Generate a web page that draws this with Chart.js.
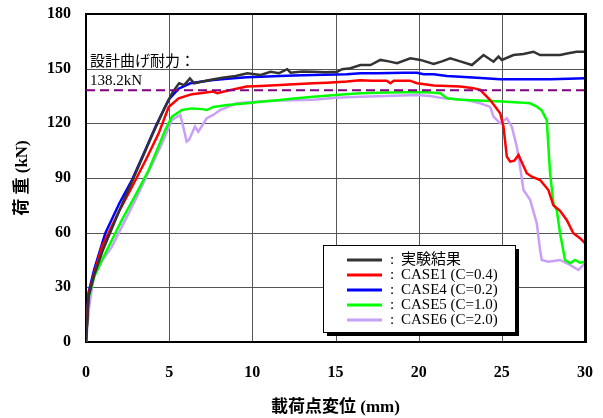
<!DOCTYPE html>
<html>
<head>
<meta charset="utf-8">
<script src="https://cdn.jsdelivr.net/npm/chart.js@4"></script>
<style>
  html, body { margin: 0; padding: 0; background: #fff; }
</style>
</head>
<body>
<canvas id="chart" width="603" height="418"></canvas>
<script>
// displacement (mm) / load (kN)
const expX = [0, 0.15, 0.5, 1, 2, 3, 4, 4.7, 5.2, 5.6, 5.9, 6.25, 6.5, 7, 7.6, 8.2, 9, 9.7, 10.5, 11.1, 11.6, 12.1, 12.3, 13, 13.7, 14.4, 15.1, 15.4, 15.9, 16.5, 17.1, 17.7, 18.2, 18.7, 19.5, 20.1, 20.9, 21.4, 21.9, 22.5, 23.2, 23.9, 24.5, 24.8, 25, 25.7, 26.3, 26.9, 27.3, 28, 28.5, 29, 29.5, 30];
const expY = [0, 25, 37, 50, 72, 93, 114, 128, 137, 142, 141, 144.7, 142, 143, 144, 145, 146, 147.5, 146.5, 148.3, 147.5, 149.7, 147.8, 148.5, 148.3, 148, 148.3, 149.7, 150.2, 152, 152, 154.8, 154, 153, 155.7, 154.8, 152.6, 154, 155.7, 154, 152, 157.5, 153.8, 156.6, 154.8, 157.5, 158, 159.3, 157.5, 157.5, 157.5, 158.5, 159.3, 159.3];

const case1X = [0, 0.15, 0.5, 0.96, 2, 2.77, 3.6, 4.37, 4.97, 5.57, 6.37, 6.86, 7.65, 7.9, 8.3, 9.66, 10.5, 11.67, 12.5, 13.65, 14.5, 15.68, 16.48, 17.2, 18.08, 18.3, 18.5, 19.48, 19.9, 20.9, 21.7, 22.5, 23.3, 23.7, 24.3, 24.9, 25.1, 25.3, 25.5, 25.75, 26, 26.5, 26.8, 27.3, 27.8, 28.1, 28.5, 28.9, 29.3, 29.7, 30];
const case1Y = [0, 26, 38, 52.3, 72, 85.2, 100, 114.5, 129, 133.7, 136, 136.5, 137.4, 136.5, 137.5, 140.2, 140.5, 141, 141.5, 142, 142.3, 142.9, 143.6, 143.4, 143.4, 142, 143.4, 143.4, 142, 140.8, 140.5, 140.2, 139.3, 138.3, 132.8, 125.5, 118.2, 101.7, 99, 99.5, 102.6, 92.6, 90.7, 88.9, 83.4, 75, 72, 67, 59.7, 57, 54.2];

const case4X = [0, 0.15, 0.5, 1.16, 2, 2.77, 3.5, 4.17, 4.97, 5.57, 6.27, 7, 7.65, 8.5, 9.66, 10.5, 11.67, 12.5, 13.67, 15, 15.68, 16.5, 17.5, 18.3, 19.1, 19.9, 20.3, 20.9, 21.7, 22.5, 23.5, 24.9, 26, 27.9, 29, 30];
const case4Y = [0, 27, 40, 59.7, 76, 89, 104, 118, 133, 139, 142, 143, 143.8, 144.5, 145.3, 145.6, 146, 146.3, 146.5, 146.8, 147, 147.5, 147.5, 147.6, 147.7, 147.8, 147, 146.9, 146, 145.6, 145, 144.2, 144.2, 144.2, 144.5, 144.7];

const case5X = [0, 0.15, 0.5, 0.96, 2.16, 3, 3.77, 4.3, 4.77, 5.17, 5.77, 6.37, 7, 7.26, 7.65, 8.5, 9.66, 10.5, 11.67, 12.5, 13.67, 15, 16.48, 17.5, 19, 20.5, 21.3, 21.7, 22.5, 23.9, 25, 26, 26.7, 27.1, 27.4, 27.7, 27.8, 27.9, 28.1, 28.3, 28.5, 28.8, 29.1, 29.4, 29.7, 30];
const case5Y = [0, 24, 36, 45, 67, 81, 94.4, 106, 116.4, 123.7, 127.3, 128.2, 127.8, 127.3, 129, 130, 131, 131.8, 132.8, 133.6, 134.6, 135.5, 136.5, 136.8, 137, 137, 136.5, 133.7, 133, 132.4, 132, 131.5, 131, 129.2, 127, 121.8, 107.2, 92.6, 76, 72.4, 59.7, 45, 43.2, 45, 43.5, 44];

const case6X = [0, 0.2, 0.46, 1, 1.56, 2.2, 2.97, 3.8, 4.57, 5.17, 5.67, 5.85, 6.05, 6.2, 6.55, 6.75, 7.26, 7.65, 8.06, 9.06, 10.46, 11.67, 13.67, 15, 16.48, 18, 19.9, 20.7, 21.5, 22.9, 23.7, 24.3, 24.5, 24.9, 25.3, 25.6, 25.9, 26.1, 26.3, 26.7, 27.1, 27.3, 27.4, 27.8, 28.5, 29.1, 29.6, 29.9, 30];
const case6Y = [0, 20, 35.8, 45, 52.3, 64, 78, 94, 109, 121.8, 124.6, 118, 110, 111, 118.2, 115.4, 122.8, 124.6, 127.3, 131, 132, 132.5, 133, 134, 134.6, 135, 135.5, 135, 133.7, 132.8, 131, 129, 123.7, 120, 122.8, 118.2, 107.2, 96.2, 83.4, 78, 65.2, 50.5, 45, 44, 45, 42.3, 39.5, 42.3, 43];

const designX = [0, 30];
const designY = [138.2, 138.2];

const seriesLabels = ["実験結果", "CASE1 (C=0.4)", "CASE4 (C=0.2)", "CASE5 (C=1.0)", "CASE6 (C=2.0)"];
const seriesColors = ["#333333", "#ff0000", "#0000ff", "#00ff00", "#c8a0f8"];

const xTicks = [0, 5, 10, 15, 20, 25, 30];
const yTicks = [0, 30, 60, 90, 120, 150, 180];

function pts(xs, ys) {
  return xs.map((x, i) => ({ x: x, y: ys[i] }));
}

const serif = "'Liberation Serif', 'Times New Roman', 'Noto Sans CJK JP', serif";

const overlay = {
  id: "overlay",
  afterDraw(chart) {
    const ctx = chart.ctx;
    const a = chart.chartArea;
    const xs = chart.scales.x, ys = chart.scales.y;
    ctx.save();

    // legend box first (opaque), so the grid slips behind it too
    const bx = 323, by = 245, bw = 192, bh = 87;
    ctx.fillStyle = "#000";
    ctx.fillRect(bx + 4, by + 4, bw, bh);
    ctx.fillStyle = "#fff";
    ctx.fillRect(bx, by, bw, bh);

    // grid from the scales, painted behind what is already there
    ctx.globalCompositeOperation = "destination-over";
    ctx.strokeStyle = "#555";
    ctx.lineWidth = 1;
    ctx.setLineDash([]);
    ctx.beginPath();
    xTicks.slice(1, -1).forEach(v => {
      const px = Math.round(xs.getPixelForValue(v)) + 0.5;
      ctx.moveTo(px, a.top);
      ctx.lineTo(px, a.bottom);
    });
    yTicks.slice(1, -1).forEach(v => {
      const py = Math.round(ys.getPixelForValue(v)) + 0.5;
      ctx.moveTo(a.left, py);
      ctx.lineTo(a.right, py);
    });
    ctx.stroke();
    ctx.globalCompositeOperation = "source-over";

    // frame top/right
    ctx.strokeStyle = "#000";
    ctx.lineWidth = 2;
    ctx.beginPath();
    ctx.moveTo(a.left, a.top);
    ctx.lineTo(a.right, a.top);
    ctx.stroke();
    ctx.lineWidth = 3;
    ctx.beginPath();
    ctx.moveTo(a.right + 0.5, a.top - 1);
    ctx.lineTo(a.right + 0.5, a.bottom + 1);
    ctx.stroke();

    // design strength label
    ctx.fillStyle = "#000";
    ctx.font = "15px " + serif;
    ctx.textBaseline = "alphabetic";
    ctx.textAlign = "left";
    ctx.fillText("設計曲げ耐力：", xs.getPixelForValue(0) + 4, ys.getPixelForValue(150) - 3);
    ctx.fillText("138.2kN", xs.getPixelForValue(0) + 4, ys.getPixelForValue(138.2) - 5);

    // legend contents
    ctx.strokeStyle = "#000";
    ctx.lineWidth = 1;
    ctx.strokeRect(bx + 0.5, by + 0.5, bw, bh);
    ctx.font = "15px " + serif;
    ctx.textBaseline = "middle";
    seriesLabels.forEach((lab, i) => {
      const y = by + 15 + i * 15;
      ctx.strokeStyle = seriesColors[i];
      ctx.lineWidth = 3;
      ctx.beginPath();
      ctx.moveTo(347, y);
      ctx.lineTo(382, y);
      ctx.stroke();
      ctx.fillStyle = "#000";
      ctx.fillText(":", 390, y);
      ctx.fillText(lab, 401, y);
    });
    ctx.restore();
  }
};

const allX = [expX, case1X, case4X, case5X, case6X];
const allY = [expY, case1Y, case4Y, case5Y, case6Y];

const datasets = seriesLabels.map((lab, i) => ({
  label: lab,
  data: pts(allX[i], allY[i]),
  borderColor: seriesColors[i],
  borderWidth: 2.5,
  pointRadius: 0,
  tension: 0,
  fill: false
}));
datasets.unshift({
  label: "設計曲げ耐力",
  data: pts(designX, designY),
  borderColor: "#800080",
  borderWidth: 2,
  borderDash: [9, 5],
  pointRadius: 0,
  fill: false
});

new Chart(document.getElementById("chart").getContext("2d"), {
  type: "line",
  data: { datasets: datasets },
  options: {
    responsive: false,
    animation: false,
    layout: { padding: { left: 0, top: 14, right: 18, bottom: 0 } },
    plugins: { legend: { display: false }, tooltip: { enabled: false } },
    scales: {
      x: {
        type: "linear",
        min: xTicks[0], max: xTicks[xTicks.length - 1],
        afterFit: s => { s.height = 76; s.paddingLeft = 0; s.paddingRight = 0; },
        grid: { display: false, drawTicks: false },
        border: { color: "#000", width: 2 },
        ticks: { stepSize: xTicks[1] - xTicks[0], color: "#000", padding: 21,
                 font: { family: serif, size: 16, weight: "bold" } },
        title: { display: true, text: "載荷点変位 (mm)", color: "#000", padding: { top: 0, bottom: 0 },
                 font: { family: serif, size: 17, weight: "bold" } }
      },
      y: {
        min: yTicks[0], max: yTicks[yTicks.length - 1],
        afterFit: s => { s.width = 86; s.paddingTop = 0; s.paddingBottom = 0; },
        grid: { display: false, drawTicks: false },
        border: { color: "#000", width: 2 },
        ticks: { stepSize: yTicks[1] - yTicks[0], color: "#000", padding: 15,
                 font: { family: serif, size: 16, weight: "bold" } },
        title: { display: true, text: "荷 重 (kN)", color: "#000", padding: { top: 12, bottom: 0 },
                 font: { family: serif, size: 17, weight: "bold" } }
      }
    }
  },
  plugins: [overlay]
});
</script>
</body>
</html>
